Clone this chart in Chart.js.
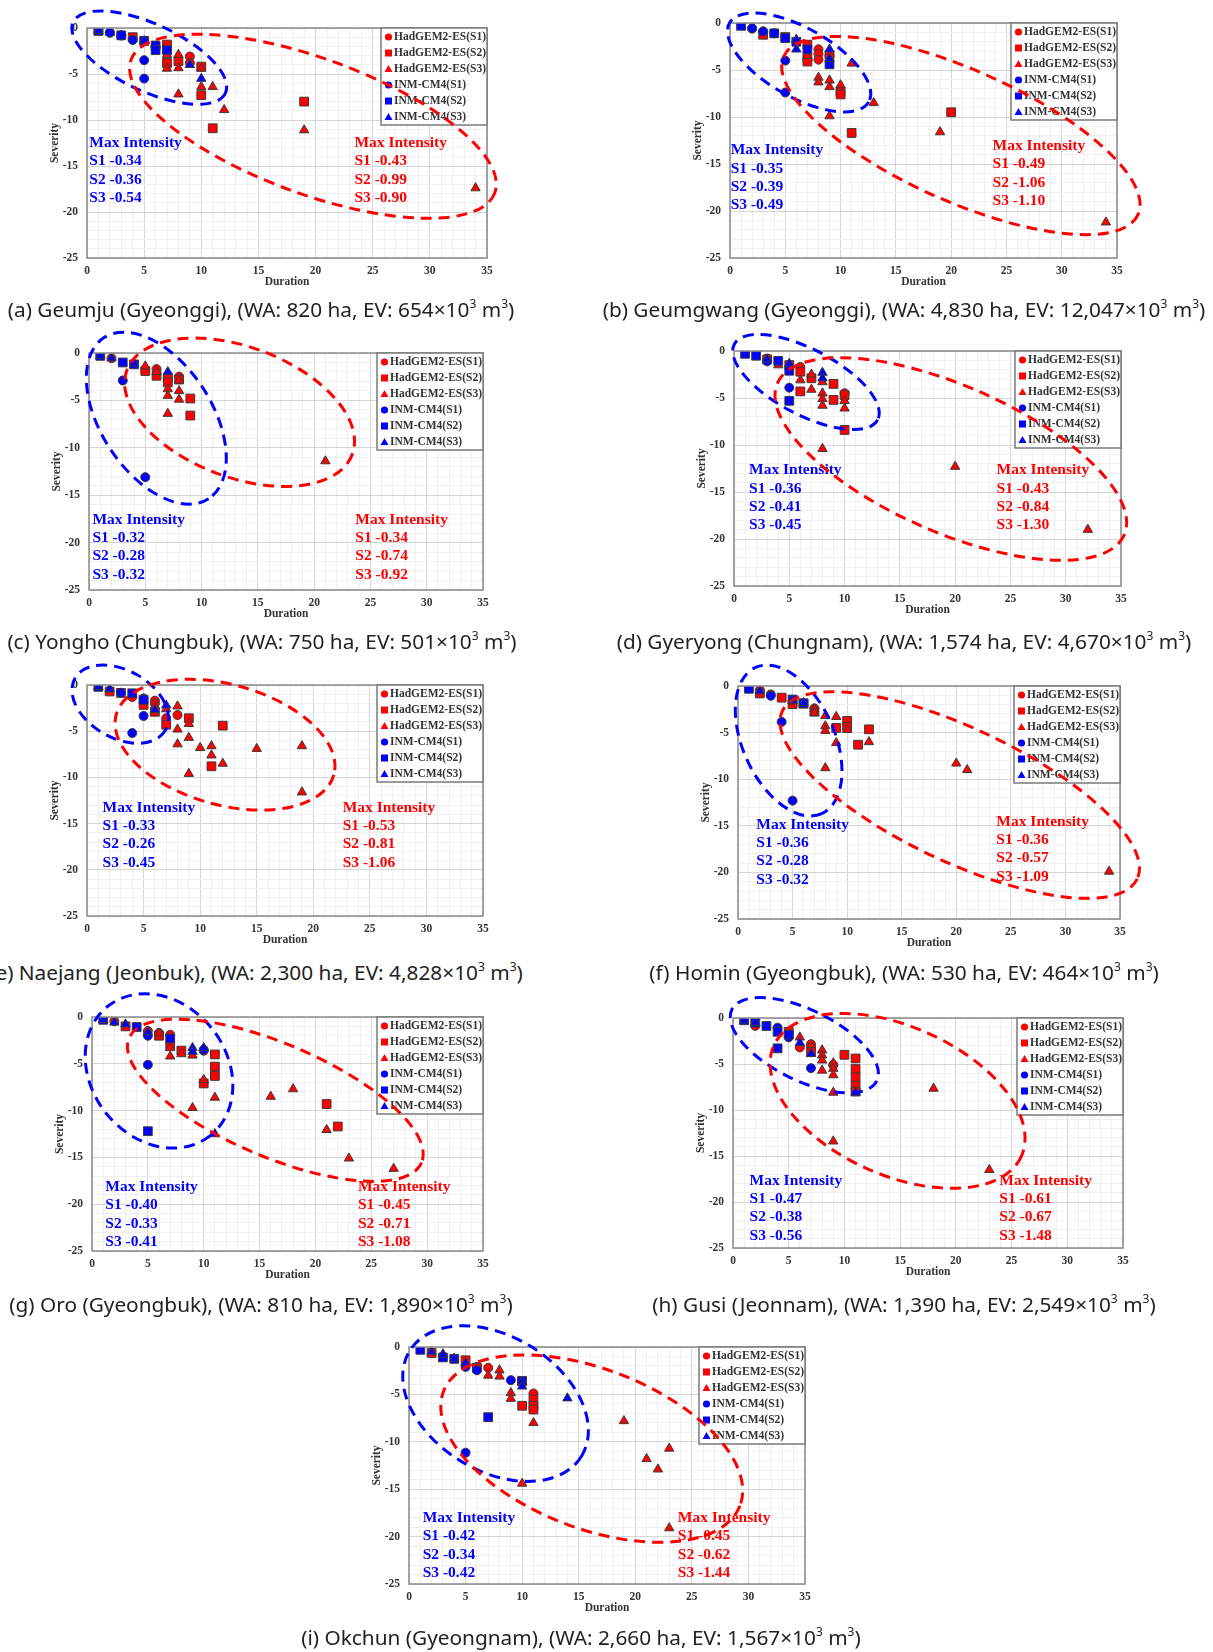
<!DOCTYPE html>
<html>
<head>
<meta charset="utf-8">
<script src="https://cdn.jsdelivr.net/npm/chart.js@4.4.0/dist/chart.umd.min.js"></script>
<style>
  html, body { margin: 0; padding: 0; background: #fff; }
  #page { position: relative; width: 1213px; height: 1652px; overflow: hidden; background: #fff; }
  #page canvas { position: absolute; }
  .cap { position: absolute; width: 700px; text-align: center; white-space: nowrap;
         font-family: "Noto Sans", "Noto Sans CJK KR", sans-serif; font-size: 20.8px;
         line-height: 26px; color: #222; }
  .cap sup { font-size: 12px; vertical-align: 9px; line-height: 0; }
</style>
</head>
<body>
<div id="page"></div>
<script>
// ---- data ----
const seriesNames = ['HadGEM2-ES(S1)', 'HadGEM2-ES(S2)', 'HadGEM2-ES(S3)', 'INM-CM4(S1)', 'INM-CM4(S2)', 'INM-CM4(S3)'];
const xTicks = [0, 5, 10, 15, 20, 25, 30, 35];
const yTicks = [0, -5, -10, -15, -20, -25];

const sites = ['Geumju', 'Geumgwang', 'Yongho', 'Gyeryong', 'Naejang', 'Homin', 'Oro', 'Gusi', 'Okchun'];
const provinces = ['Gyeonggi', 'Gyeonggi', 'Chungbuk', 'Chungnam', 'Jeonbuk', 'Gyeongbuk', 'Gyeongbuk', 'Jeonnam', 'Gyeongnam'];
const waHa = ['820', '4,830', '750', '1,574', '2,300', '530', '810', '1,390', '2,660'];
const evVol = ['654', '12,047', '501', '4,670', '4,828', '464', '1,890', '2,549', '1,567'];

// Max intensity S1..S3
const hadMax = [[-0.43, -0.99, -0.90], [-0.49, -1.06, -1.10], [-0.34, -0.74, -0.92], [-0.43, -0.84, -1.30], [-0.53, -0.81, -1.06],
                [-0.36, -0.57, -1.09], [-0.45, -0.71, -1.08], [-0.61, -0.67, -1.48], [-0.45, -0.62, -1.44]];
const inmMax = [[-0.34, -0.36, -0.54], [-0.35, -0.39, -0.49], [-0.32, -0.28, -0.32], [-0.36, -0.41, -0.45], [-0.33, -0.26, -0.45],
                [-0.36, -0.28, -0.32], [-0.40, -0.33, -0.41], [-0.47, -0.38, -0.56], [-0.42, -0.34, -0.42]];

// [duration, severity], one list per series (same order as seriesNames)
const geumju = [
  [[2,-0.5],[3,-0.8],[6,-2.0],[7,-2.6],[9,-3.1],[9,-3.8]],
  [[1,-0.3],[4,-1.0],[7,-1.8],[7,-3.8],[8,-3.6],[10,-4.2],[10,-7.3],[11,-10.9],[19,-8.0]],
  [[2,-0.5],[7,-2.9],[7,-4.4],[8,-2.9],[8,-4.35],[8,-7.2],[10,-4.4],[10,-6.4],[11,-6.4],[12,-8.9],[19,-11.1],[34,-17.4]],
  [[2,-0.5],[3,-0.8],[4,-1.3],[5,-3.5],[5,-5.5]],
  [[1,-0.3],[3,-0.8],[5,-1.4],[6,-1.9],[6,-2.4],[7,-2.4]],
  [[1,-0.3],[5,-1.4],[9,-4.0],[10,-5.5]]
];
const geumgwang = [
  [[2,-0.6],[3,-0.9],[8,-2.8],[8,-3.3],[8,-3.9],[9,-3.5]],
  [[3,-1.25],[5,-1.5],[7,-2.3],[7,-3.7],[7,-4.1],[9,-3.4],[10,-7.3],[10,-7.6],[11,-11.7],[20,-9.5]],
  [[6,-1.8],[7,-3.5],[8,-5.8],[8,-6.3],[9,-6.1],[9,-6.8],[9,-9.9],[10,-6.6],[11,-4.3],[13,-8.5],[19,-11.6],[34,-21.2]],
  [[2,-0.55],[3,-0.9],[4,-1.1],[5,-4.0],[5,-7.4]],
  [[1,-0.3],[4,-1.1],[5,-1.6],[6,-2.0],[7,-2.8],[9,-4.4]],
  [[6,-1.8],[6,-2.8],[9,-2.8],[9,-3.8]]
];
const yongho = [
  [[2,-0.55],[6,-1.7],[7,-2.6],[8,-2.5]],
  [[5,-1.9],[6,-2.4],[7,-2.6],[7,-3.1],[8,-2.8],[9,-4.8],[9,-6.6]],
  [[5,-1.4],[6,-2.0],[7,-3.8],[7,-4.5],[7,-6.4],[8,-2.9],[8,-4.0],[8,-4.9],[21,-11.4]],
  [[3,-2.9],[5,-13.1]],
  [[1,-0.3],[3,-1.0],[4,-1.2]],
  [[1,-0.3],[2,-0.55],[4,-1.1],[7,-2.0]]
];
const gyeryong = [
  [[3,-0.8],[6,-1.7],[10,-4.5]],
  [[3,-0.9],[5,-1.5],[6,-2.2],[6,-4.3],[7,-2.9],[9,-3.5],[9,-5.2],[10,-4.7],[10,-8.4]],
  [[4,-1.5],[6,-3.1],[7,-2.5],[7,-4.1],[8,-3.3],[8,-4.5],[8,-5.1],[8,-5.8],[8,-10.4],[10,-5.3],[10,-6.1],[20,-12.3],[32,-19.0]],
  [[3,-1.1],[5,-3.9]],
  [[1,-0.3],[2,-0.5],[4,-1.05],[5,-2.1],[5,-5.3]],
  [[3,-0.9],[5,-1.35],[8,-2.3],[8,-2.9]]
];
const naejang = [
  [[4,-1.3],[6,-1.7],[6,-2.0],[7,-3.6],[8,-3.25]],
  [[2,-0.7],[3,-0.85],[5,-2.15],[6,-2.9],[7,-4.3],[9,-3.6],[11,-8.8],[12,-4.4]],
  [[2,-0.45],[6,-2.3],[7,-2.6],[8,-2.3],[8,-4.8],[8,-6.4],[9,-4.2],[9,-5.7],[9,-9.6],[10,-6.8],[11,-6.6],[11,-7.6],[12,-8.5],[15,-6.9],[19,-6.6],[19,-11.6]],
  [[3,-0.85],[4,-5.2],[5,-1.45],[5,-3.35]],
  [[1,-0.2],[4,-0.9],[5,-1.6]],
  [[1,-0.2],[2,-0.45],[6,-2.7],[7,-2.2]]
];
const homin = [
  [[2,-0.45],[3,-0.9],[7,-2.4]],
  [[2,-0.8],[4,-1.25],[5,-1.95],[6,-1.9],[7,-2.75],[9,-4.5],[10,-3.75],[10,-4.4],[11,-6.3],[12,-4.65]],
  [[7,-2.5],[7,-2.9],[8,-3.2],[8,-4.3],[8,-4.8],[8,-8.8],[9,-3.3],[9,-6.1],[10,-4.7],[12,-6.0],[20,-8.3],[21,-9.0],[34,-19.9]],
  [[3,-1.05],[4,-3.85],[5,-12.3]],
  [[1,-0.3],[5,-1.45],[6,-1.85]],
  [[2,-0.55],[5,-1.6],[6,-1.8]]
];
const oro = [
  [[2,-0.45],[5,-1.5],[6,-1.7],[7,-1.9],[10,-3.6]],
  [[3,-1.0],[6,-2.0],[7,-3.0],[8,-3.6],[10,-7.1],[11,-4.0],[11,-5.3],[11,-6.3],[21,-9.3],[22,-11.7]],
  [[6,-1.75],[7,-3.3],[7,-4.2],[8,-3.95],[9,-4.1],[9,-9.7],[10,-6.7],[11,-8.6],[16,-8.5],[18,-7.7],[21,-12.05],[23,-15.1],[27,-16.2]],
  [[5,-2.0],[5,-5.1],[10,-3.5]],
  [[1,-0.3],[4,-1.07],[5,-12.2],[7,-2.3]],
  [[1,-0.3],[2,-0.57],[3,-0.78],[5,-1.6],[9,-3.3],[9,-3.7],[10,-3.3],[11,-12.5]]
];
const gusi = [
  [[2,-0.85],[5,-1.6],[6,-3.2],[7,-2.85],[7,-3.2],[9,-5.1]],
  [[5,-1.5],[7,-3.7],[10,-4.0],[11,-4.4],[11,-5.55],[11,-6.45],[11,-7.35],[11,-8.0]],
  [[6,-2.1],[8,-3.5],[8,-4.05],[8,-4.6],[8,-5.7],[9,-4.9],[9,-5.5],[9,-6.2],[9,-8.1],[9,-13.4],[18,-7.66],[23,-16.5]],
  [[4,-1.05],[5,-2.1],[7,-5.45]],
  [[1,-0.25],[2,-0.5],[3,-0.87],[4,-1.5],[4,-3.3],[5,-1.8]],
  [[1,-0.25],[2,-0.5],[6,-2.7],[7,-3.9],[11,-8.1]]
];
const okchun = [
  [[6,-2.1],[7,-2.2],[11,-4.9]],
  [[2,-0.63],[5,-1.4],[6,-2.2],[10,-3.6],[10,-6.2],[11,-5.55],[11,-6.2],[11,-6.6]],
  [[3,-0.75],[7,-3.0],[8,-2.45],[8,-3.1],[9,-4.85],[9,-5.45],[10,-14.4],[11,-8.0],[19,-7.8],[21,-11.8],[22,-12.9],[23,-10.7],[23,-19.1]],
  [[5,-2.1],[5,-11.15],[6,-2.45],[9,-3.5]],
  [[1,-0.3],[3,-1.1],[4,-1.25],[7,-7.4],[10,-3.6]],
  [[2,-0.53],[3,-0.8],[4,-1.2],[5,-1.7],[10,-3.65],[10,-4.15],[14,-5.4]]
];
const panelData = [geumju, geumgwang, yongho, gyeryong, naejang, homin, oro, gusi, okchun];

// ---- layout (page pixels) ----
// plot area [left, top, right, bottom]
const plotBox = [[87,28,487,258],[730,23,1117,258],[89,353,483,590],[734,351,1121,586],[87,685,483,916],
                 [738,686,1120,919],[92,1017,483,1251],[733,1018,1123,1248],[409,1347,805,1584]];
// caption centre [x, y]
const capPos = [[261,309],[904,309],[262,641],[904,641],[256,972],[904,972],[261,1304],[904,1304],[581,1637]];
// dashed ellipses: centre in axis units, radii in px, rotation deg
const blueRing = [[5.45,-3.22,84,33.5,25],[6.25,-4.2,80,34.4,29.5],[5.98,-6.87,96,55.5,57],[6.51,-3.3,81,32.7,27.8],
                  [2.94,-2.07,52.2,33.8,29.8],[4.64,-5.85,80.2,45.9,65.6],[6.0,-5.76,82.5,67.8,51.6],[6.4,-2.96,80.8,35.2,26.2],
                  [7.65,-5.97,100.8,67.2,31.5]];
const redRing = [[19.77,-10.68,193.7,67.7,20.1],[20.88,-11.97,194,65.7,24],[13.38,-6.25,120.3,65.2,20.5],[19.61,-11.49,189.3,73.2,23.65],
                 [12.2,-6.46,112.9,60.2,15.5],[20.32,-11.7,196.3,66.7,25.3],[16.41,-8.9,159,56.5,23.07],[14.77,-9.01,135.6,74.3,24],
                 [16.15,-10.72,158.9,79.6,21.1]];
// "Max Intensity" anchors in axis units [blueX, blueY, redX, redY]
const textPos = [[0.2,-12.5,23.4,-12.5],[0.06,-13.55,23.75,-13.1],[0.3,-17.6,23.66,-17.6],[1.36,-12.7,23.75,-12.7],
                 [1.38,-13.28,22.6,-13.28],[1.68,-14.9,23.67,-14.56],[1.19,-18.18,23.8,-18.18],[1.49,-17.68,23.9,-17.68],
                 [1.21,-18.05,23.76,-18.05]];

const RED = '#ff0000', BLUE = '#0000ff';
const serif = '"Liberation Serif", "Times New Roman", serif';
const styles = [
  {color: RED, shape: 'circle', r: 4.5},
  {color: RED, shape: 'rect', r: 6.2},
  {color: RED, shape: 'triangle', r: 5.4},
  {color: BLUE, shape: 'circle', r: 4.5},
  {color: BLUE, shape: 'rect', r: 6.2},
  {color: BLUE, shape: 'triangle', r: 5.4}
];

const PADL = 50, PADT = 25, PADR = 45, PADB = 40;
const page = document.getElementById('page');

function drawRing(ctx, chart, e, color) {
  const cx = chart.scales.x.getPixelForValue(e[0]);
  const cy = chart.scales.y.getPixelForValue(e[1]);
  ctx.save();
  ctx.beginPath();
  ctx.ellipse(cx, cy, e[2], e[3], e[4] * Math.PI / 180, 0, Math.PI * 2);
  ctx.setLineDash([11, 7]);
  ctx.lineWidth = 3;
  ctx.strokeStyle = color;
  ctx.stroke();
  ctx.restore();
}

function drawIntensity(ctx, chart, px, py, vals, color) {
  const x = chart.scales.x.getPixelForValue(px);
  const y = chart.scales.y.getPixelForValue(py);
  ctx.save();
  ctx.font = 'bold 15.5px ' + serif;
  ctx.fillStyle = color;
  ctx.textBaseline = 'middle';
  ctx.textAlign = 'left';
  ctx.fillText('Max Intensity', x, y);
  vals.forEach((v, k) => ctx.fillText('S' + (k + 1) + ' ' + v.toFixed(2), x, y + (k + 1) * 18.3));
  ctx.restore();
}

function legendMark(ctx, shape, x, y, color) {
  ctx.fillStyle = color;
  ctx.beginPath();
  if (shape === 'circle') ctx.arc(x, y, 3.6, 0, Math.PI * 2);
  else if (shape === 'rect') ctx.rect(x - 3.5, y - 3.5, 7, 7);
  else { ctx.moveTo(x, y - 4); ctx.lineTo(x + 4, y + 3); ctx.lineTo(x - 4, y + 3); ctx.closePath(); }
  ctx.fill();
}

function makePanel(i) {
  const [L, T, R, B] = plotBox[i];
  const cv = document.createElement('canvas');
  const w = (R - L) + PADL + PADR, h = (B - T) + PADT + PADB;
  cv.width = w; cv.height = h;
  cv.style.left = (L - PADL) + 'px';
  cv.style.top = (T - PADT) + 'px';
  cv.style.width = w + 'px'; cv.style.height = h + 'px';
  page.appendChild(cv);

  const decor = {
    id: 'decor' + i,
    afterDatasetsDraw(chart) {
      const ctx = chart.ctx, ca = chart.chartArea;
      ctx.save();
      ctx.strokeStyle = '#8a8a8a';
      ctx.lineWidth = 1.5;
      ctx.strokeRect(ca.left, ca.top, ca.right - ca.left, ca.bottom - ca.top);
      // legend box
      const lw = 106, lh = 97;
      const lx = ca.right - lw, ly = ca.top;
      ctx.fillStyle = '#fff';
      ctx.fillRect(lx, ly, lw, lh);
      ctx.strokeStyle = '#7a7a7a';
      ctx.strokeRect(lx, ly, lw, lh);
      ctx.font = 'bold 11.5px ' + serif;
      ctx.textBaseline = 'middle';
      seriesNames.forEach((name, k) => {
        const yy = ly + 9 + k * 16;
        legendMark(ctx, styles[k].shape, lx + 7.5, yy, styles[k].color);
        ctx.fillStyle = '#333';
        ctx.fillText(name, lx + 13, yy + 0.5);
      });
      ctx.restore();
    },
    afterDraw(chart) {
      const ctx = chart.ctx;
      const tp = textPos[i];
      drawIntensity(ctx, chart, tp[0], tp[1], inmMax[i], BLUE);
      drawIntensity(ctx, chart, tp[2], tp[3], hadMax[i], RED);
      drawRing(ctx, chart, blueRing[i], BLUE);
      drawRing(ctx, chart, redRing[i], RED);
    }
  };

  const gridColor = c => (c.tick && c.tick.value % 5 === 0) ? '#d6d6d6' : '#efefef';
  const tickFont = {family: serif, size: 11.5, weight: 'bold'};

  new Chart(cv.getContext('2d'), {
    type: 'scatter',
    data: {
      datasets: panelData[i].map((pts, k) => ({
        label: seriesNames[k],
        data: pts.map(p => ({x: p[0], y: p[1]})),
        pointStyle: styles[k].shape,
        pointRadius: styles[k].r,
        pointBackgroundColor: styles[k].color,
        pointBorderColor: '#3a3a3a',
        pointBorderWidth: 1,
        showLine: false,
        order: 6 - k
      }))
    },
    options: {
      responsive: false,
      animation: false,
      events: [],
      layout: {padding: {left: 0, top: PADT, right: PADR, bottom: 0}},
      plugins: {legend: {display: false}, tooltip: {enabled: false}},
      scales: {
        x: {
          type: 'linear', min: 0, max: 35,
          afterFit: s => { s.height = PADB; },
          grid: {color: gridColor, drawTicks: false, lineWidth: 1},
          border: {display: false},
          ticks: {stepSize: 1, autoSkip: false, maxRotation: 0, padding: 6, color: '#333', font: tickFont,
                  callback: v => xTicks.includes(v) ? String(v) : ''},
          title: {display: true, text: 'Duration', color: '#333', font: tickFont, padding: {top: 0, bottom: 9}}
        },
        y: {
          type: 'linear', min: -25, max: 0,
          afterFit: s => { s.width = PADL; },
          grid: {color: gridColor, drawTicks: false, lineWidth: 1},
          border: {display: false},
          ticks: {stepSize: 1, autoSkip: false, padding: 9, color: '#333', font: tickFont,
                  callback: v => yTicks.includes(v) ? String(v) : ''},
          title: {display: true, text: 'Severity', color: '#333', font: tickFont, padding: {top: 11, bottom: 0}}
        }
      }
    },
    plugins: [decor]
  });

  const cap = document.createElement('div');
  cap.className = 'cap';
  cap.style.left = (capPos[i][0] - 350) + 'px';
  cap.style.top = (capPos[i][1] - 13) + 'px';
  cap.innerHTML = '(' + 'abcdefghi'[i] + ') ' + sites[i] + ' (' + provinces[i] + '), (WA: ' + waHa[i] +
    ' ha, EV: ' + evVol[i] + '×10<sup>3</sup> m<sup>3</sup>)';
  page.appendChild(cap);
}

for (let i = 0; i < 9; i++) makePanel(i);
</script>
</body>
</html>
